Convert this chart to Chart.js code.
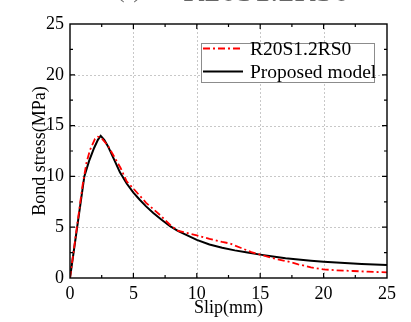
<!DOCTYPE html>
<html>
<head>
<meta charset="utf-8">
<script src="https://cdn.jsdelivr.net/npm/chart.js@4"></script>
<style>
html,body{margin:0;padding:0;background:#fff;}
#wrap{position:relative;width:411px;height:322px;}
canvas{display:block;}
</style>
</head>
<body>
<div id="wrap"><canvas id="c" width="411" height="322"></canvas></div>
<script>
// ---- data ----
const testSlip   = [0, 0.5, 1.0, 1.31, 1.58, 1.97, 2.2, 2.5, 3, 3.5, 4, 4.47, 5, 6, 7.1, 8, 8.54, 9, 10, 11, 12, 12.6, 13.5, 14.3, 15, 16, 17.1, 18, 19, 20, 21, 22.3, 23.5, 25];
const testStress = [0, 4.6, 9.2, 11.4, 12.6, 13.7, 13.9, 13.75, 13.0, 11.9, 10.8, 9.5, 8.8, 7.4, 6.2, 5.1, 4.63, 4.5, 4.2, 3.85, 3.55, 3.4, 2.95, 2.55, 2.3, 1.95, 1.65, 1.35, 1.05, 0.85, 0.76, 0.69, 0.62, 0.56];
const modelSlip   = [0, 1.13, 1.5, 1.9, 2.2, 2.42, 2.7, 3, 3.5, 3.94, 4.47, 5, 5.5, 6, 6.57, 7.2, 7.89, 8.5, 9, 10, 11, 12, 13, 14, 15, 16, 17, 18, 19, 20, 21, 22, 23, 24, 25];
const modelStress = [0, 10.0, 11.5, 12.8, 13.6, 14.0, 13.6, 12.95, 11.6, 10.4, 9.3, 8.4, 7.7, 7.05, 6.4, 5.75, 5.1, 4.65, 4.35, 3.75, 3.3, 2.98, 2.72, 2.5, 2.3, 2.12, 1.95, 1.82, 1.7, 1.6, 1.52, 1.45, 1.38, 1.33, 1.28];
const seriesNames = ["R20S1.2RS0", "Proposed model"];
const xTicks = [0, 5, 10, 15, 20, 25];
const yTicks = [0, 5, 10, 15, 20, 25];
const titleParts = ["(f)", "R20S1.2RS0"];

const FONT = "'Liberation Serif', 'Times New Roman', serif";

function pts(xs, ys){ return xs.map((x,i)=>({x:x, y:ys[i]})); }

const framePlugin = {
  id: 'frame',
  beforeDatasetsDraw(chart){
    const {ctx, chartArea:a, scales:{x, y}} = chart;
    ctx.save();
    ctx.strokeStyle = '#c8c8c8';
    ctx.lineWidth = 1;
    ctx.setLineDash([2,2]);
    xTicks.slice(1,-1).forEach(v=>{
      const px = Math.round(x.getPixelForValue(v))+0.5;
      ctx.beginPath(); ctx.moveTo(px, a.top); ctx.lineTo(px, a.bottom); ctx.stroke();
    });
    yTicks.slice(1,-1).forEach(v=>{
      const py = Math.round(y.getPixelForValue(v))+0.5;
      ctx.beginPath(); ctx.moveTo(a.left, py); ctx.lineTo(a.right, py); ctx.stroke();
    });
    ctx.restore();
  },
  afterDraw(chart){
    const {ctx, chartArea:a, scales:{x, y}} = chart;
    ctx.save();
    ctx.strokeStyle = '#000';
    ctx.lineWidth = 1.4;
    ctx.setLineDash([]);
    ctx.strokeRect(a.left, a.top, a.right-a.left, a.bottom-a.top);
    ctx.lineWidth = 1.2;
    for (let v = 2.5; v < 25; v += 2.5){
      const major = (v % 5 === 0);
      const L = major ? 5 : 3;
      const px = x.getPixelForValue(v);
      ctx.beginPath();
      ctx.moveTo(px, a.bottom); ctx.lineTo(px, a.bottom - L);
      ctx.moveTo(px, a.top); ctx.lineTo(px, a.top + L);
      ctx.stroke();
      const py = y.getPixelForValue(v);
      ctx.beginPath();
      ctx.moveTo(a.left, py); ctx.lineTo(a.left + L, py);
      ctx.moveTo(a.right, py); ctx.lineTo(a.right - L, py);
      ctx.stroke();
    }
    // legend box
    const ds = chart.data.datasets;
    const bx = 201, by = 43, bw = 173, bh = 39;
    ctx.fillStyle = '#fff';
    ctx.fillRect(bx, by, bw, bh);
    ctx.strokeStyle = '#8c8c8c';
    ctx.lineWidth = 1;
    ctx.strokeRect(bx+0.5, by+0.5, bw, bh);
    const rows = [48.5, 71.5];
    ds.forEach((d, i)=>{
      const ry = rows[i];
      ctx.beginPath();
      ctx.strokeStyle = d.borderColor;
      ctx.lineWidth = d.borderWidth;
      ctx.setLineDash(d.borderDash || []);
      ctx.moveTo(203, ry); ctx.lineTo(243, ry);
      ctx.stroke();
      ctx.setLineDash([]);
      ctx.fillStyle = '#000';
      ctx.font = "19.5px " + FONT;
      ctx.textBaseline = 'middle';
      ctx.textAlign = 'left';
      ctx.fillText(d.label, 250, ry + 1);
    });
    // clipped title at very top
    ctx.fillStyle = '#666';
    ctx.textBaseline = 'alphabetic';
    ctx.font = "26px " + FONT;
    ctx.fillText(titleParts[0], 116, -3.5);
    ctx.font = "32px " + FONT;
    ctx.fillText(titleParts[1], 183, 0.5);
    ctx.restore();
  }
};

new Chart(document.getElementById('c'), {
  type: 'line',
  data: {
    datasets: [
      { label: seriesNames[0], data: pts(testSlip, testStress), borderColor: '#ff0000', borderWidth: 1.8, borderDash: [7,3,2,3], pointRadius: 0, tension: 0, fill: false },
      { label: seriesNames[1], data: pts(modelSlip, modelStress), borderColor: '#000000', borderWidth: 2, pointRadius: 0, tension: 0, fill: false }
    ]
  },
  options: {
    responsive: false,
    animation: false,
    devicePixelRatio: 1,
    layout: { padding: { top: 24, right: 24, left: 0, bottom: 0 } },
    plugins: { legend: { display: false }, tooltip: { enabled: false }, title: { display: false } },
    scales: {
      x: {
        type: 'linear', min: 0, max: 25,
        afterBuildTicks: s => { s.ticks = xTicks.map(v=>({value:v})); },
        afterFit: s => { s.height = 44; },
        grid: { display: false, drawTicks: false },
        border: { display: false },
        ticks: { color: '#000', font: { family: FONT, size: 18 }, padding: 5, maxRotation: 0 },
        title: { display: true, text: 'Slip(mm)', color: '#000', font: { family: FONT, size: 18 }, padding: { top: 0, bottom: 3 } }
      },
      y: {
        type: 'linear', min: 0, max: 25,
        afterBuildTicks: s => { s.ticks = yTicks.map(v=>({value:v})); },
        afterFit: s => { s.width = 70; },
        grid: { display: false, drawTicks: false },
        border: { display: false },
        ticks: { color: '#000', font: { family: FONT, size: 18 }, padding: 6 },
        title: { display: true, text: 'Bond stress(MPa)', color: '#000', font: { family: FONT, size: 18 }, padding: { top: 29, bottom: 0 } }
      }
    }
  },
  plugins: [framePlugin]
});
</script>
</body>
</html>
